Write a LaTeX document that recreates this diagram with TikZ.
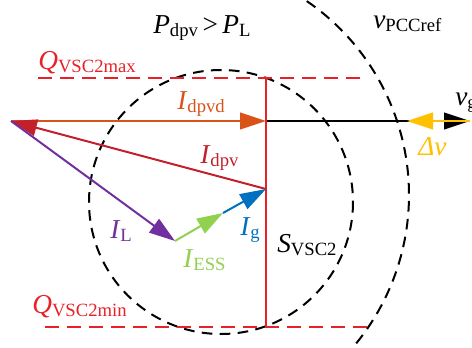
\documentclass[tikz,border=0pt]{standalone}
\usepackage{fontspec}
\setmainfont{Liberation Serif}
\usetikzlibrary{arrows.meta}
\definecolor{qred}{RGB}{232,32,40}
\definecolor{dpvred}{RGB}{196,32,44}
\definecolor{dorange}{RGB}{217,83,25}
\definecolor{lpurple}{RGB}{112,48,160}
\definecolor{essgreen}{RGB}{146,208,80}
\definecolor{gblue}{RGB}{0,112,192}
\definecolor{dvyellow}{RGB}{255,192,0}
\newcommand{\sym}[2]{\textit{#1}\raisebox{-0.12em}{\fontsize{14}{14}\selectfont #2}}

\begin{document}
\begin{tikzpicture}[x=0.75pt,y=-0.75pt,
    vec/.style={line width=1.5pt,-{Triangle[length=19.5pt,width=12.5pt]}},
    lim/.style={qred,line width=1.5pt,dash pattern=on 10.5pt off 6pt},
    ring/.style={black,line width=1.5pt,dash pattern=on 8pt off 5.5pt},
    lab/.style={anchor=base west,inner sep=0pt,font=\fontsize{20.5}{22}\selectfont}]
  \useasboundingbox (0,0) rectangle (472,347);

  % points of the phasor diagram
  \coordinate (O) at (11,121);
  \coordinate (Id) at (266,121);
  \coordinate (Ipv) at (266,189);
  \coordinate (Il) at (175,241);
  \coordinate (Ie) at (223,213);
  \coordinate (Vg) at (470,121);
  \coordinate (Dv) at (407,121);
  \coordinate (Qtop) at (266,78);
  \coordinate (Qbot) at (266,327);
  \coordinate (Qmaxl) at (38,78);
  \coordinate (Qmaxr) at (366,78);
  \coordinate (Qminl) at (45,327);
  \coordinate (Qminr) at (372,327);

  % capability circle and voltage limit
  \draw[ring] (221,202) circle (132);
  \begin{scope}
    \clip (0,0) rectangle (472,347);
    \draw[ring] (174,195) ++(-60:235) arc (-60:45:235);
  \end{scope}

  % reactive power limits
  \draw[lim] (Qmaxl) -- (Qmaxr);
  \draw[lim] (Qminl) -- (Qminr);

  \draw[vec,dorange] (O) -- (Id);
  \draw[vec,black] (Id) -- (Vg);
  \draw[qred,line width=1.5pt] (Qtop) -- (Qbot);
  \draw[vec,dpvred] (Ipv) -- (O);
  \draw[vec,lpurple] (O) -- (Il);
  \draw[vec,essgreen] (Il) -- (Ie);
  \draw[vec,gblue] (Ie) -- (Ipv);
  \draw[vec,dvyellow] (Vg) -- (Dv);

  % labels
  \node[lab] (pcmp) at (153,33) {\sym{P}{dpv}\,>\,\sym{P}{L}};
  \node[lab] (vref) at (373,28) {\sym{v}{PCCref}};
  \node[lab,text=qred] (qmax) at (38,69) {\sym{Q}{VSC2max}};
  \node[lab,text=qred] (qmin) at (32,313) {\sym{Q}{VSC2min}};
  \node[lab,text=dorange] (idpvd) at (177,109) {\sym{I}{dpvd}};
  \node[lab,text=dpvred] (idpv) at (200,163) {\sym{I}{dpv}};
  \node[lab,text=lpurple] (il) at (110,238) {\sym{I}{L}};
  \node[lab,text=essgreen] (iess) at (183,267) {\sym{I}{ESS}};
  \node[lab,text=gblue] (ig) at (240,235) {\sym{I}{g}};
  \node[lab] (svsc) at (277,252) {\sym{S}{VSC2}};
  \node[lab] (vg) at (455,105) {\sym{v}{g}};
  \node[lab,text=dvyellow] (dv) at (418,155) {\textit{Δv}};
\end{tikzpicture}
\end{document}
